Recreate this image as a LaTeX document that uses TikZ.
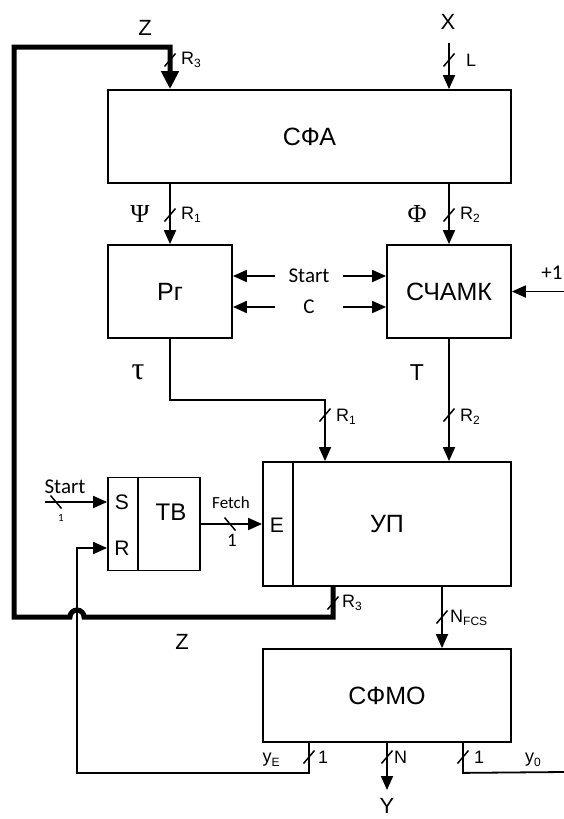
\documentclass[tikz,border=0pt]{standalone}
\usepackage{fontspec}
\setmainfont{Liberation Sans}
\newfontfamily\calibrifont{Carlito}
\newfontfamily\timesfont{Liberation Serif}
\usetikzlibrary{arrows.meta,calc,positioning}
\newcommand{\lowsub}[1]{\raisebox{-0.35ex}{\fontsize{12}{14}\selectfont #1}}

\tikzset{
  wire/.style={line width=1.8pt},
  arr/.style={wire, -{Triangle[length=14pt,width=12pt]}},
  zbus/.style={line width=5pt, -{Triangle[length=18pt,width=17pt]}},
  blk/.style={draw, line width=1.8pt, inner sep=0pt, font=\fontsize{25}{29}\selectfont},
  lbl/.style={inner sep=0pt, font=\fontsize{18}{21}\selectfont},
  sig/.style={inner sep=0pt, font=\fontsize{22}{26}\selectfont},
  cal/.style={inner sep=0pt, font=\calibrifont\fontsize{21}{25}\selectfont},
  greek/.style={inner sep=0pt, font=\timesfont\fontsize{26}{30}\selectfont},
  busv/.pic={\draw[line width=1.5pt] (-5.5,6.5) -- (5.5,-6.5);},
  bush/.pic={\draw[line width=1.5pt] (-5.5,-6.5) -- (5.5,6.5);}
}

\begin{document}
\begin{tikzpicture}[x=1pt, y=-1pt]
  \useasboundingbox (0,0) rectangle (564,819);

  % blocks
  \node[blk, minimum width=403pt, minimum height=93pt] (sfa) at (309.5,136.5) {СФА};
  \node[blk, minimum width=124pt, minimum height=93pt] (rg) at (170,291.5) {Рг};
  \node[blk, minimum width=124pt, minimum height=93pt] (sch) at (449,291.5) {СЧАМК};
  \node[blk, minimum width=248pt, minimum height=124pt] (up) at (387,524) {УП};
  \node[blk, minimum width=92pt, minimum height=93pt] (tb) at (154,524) {};
  \node[blk, minimum width=248pt, minimum height=93pt] (sfmo) at (387,695.5) {СФМО};
  \draw[wire] ([xshift=31pt]up.north west) -- ([xshift=31pt]up.south west);
  \draw[wire] ([xshift=30.5pt]tb.north west) -- ([xshift=30.5pt]tb.south west);
  \node[sig, font=\fontsize{21}{25}\selectfont] (e) at (277,525) {E};
  \node[blk, draw=none, font=\fontsize{24}{28}\selectfont] (tbl) at (171,512) {ТВ};
  \node[sig, font=\fontsize{21}{25}\selectfont] (s) at (122,502) {S};
  \node[sig, font=\fontsize{21}{25}\selectfont] (r) at (122,548) {R};

  % inputs of СФА
  \coordinate (xin) at (449,43);
  \draw[arr] (xin) -- (xin |- sfa.north);
  \node[sig] (xl) at (448,22) {X};
  \pic at (449,60) {busv};
  \node[lbl, anchor=west] at (466,60) {L};

  \draw[arr] (sfa.south -| rg.north) -- (rg.north);
  \draw[arr] (sfa.south -| sch.north) -- (sch.north);
  \pic at (170,215) {busv};
  \pic at (449,215) {busv};
  \node[greek] (psi) at (140,214) {Ψ};
  \node[lbl, anchor=west] at (181,215) {R\lowsub{1}};
  \node[greek] (phi) at (417,214) {Φ};
  \node[lbl, anchor=west] at (460,215) {R\lowsub{2}};

  % Start, C, +1
  \node[cal, minimum width=68pt] (st) at (309,276) {Start};
  \node[cal, minimum width=68pt] (cc) at (309,307) {C};
  \draw[arr] (st.west) -- (st.west -| rg.east);
  \draw[arr] (st.east) -- (st.east -| sch.west);
  \draw[arr] (cc.west) -- (cc.west -| rg.east);
  \draw[arr] (cc.east) -- (cc.east -| sch.west);
  \coordinate (inc) at (564,291.5);
  \draw[arr] (inc) -- (sch.east);
  \node[cal] (incl) at (552,273) {+1};

  % to УП
  \coordinate (tbend) at (325,400);
  \draw[arr] (rg.south) |- (tbend) -- (tbend |- up.north);
  \draw[arr] (sch.south) -- (sch.south |- up.north);
  \pic at (325,415) {busv};
  \pic at (449,415) {busv};
  \node[greek, font=\timesfont\fontsize{32}{36}\selectfont] (tau) at (138,372) {τ};
  \node[sig, font=\fontsize{23}{27}\selectfont] (tl) at (417,373) {T};
  \node[lbl, anchor=west] at (336,417) {R\lowsub{1}};
  \node[lbl, anchor=west] at (460,417) {R\lowsub{2}};

  % ТВ
  \coordinate (sin) at (45,502);
  \draw[arr] (sin) -- (sin -| tb.west);
  \pic at (56,502) {bush};
  \node[cal] at (65,487) {Start};
  \node[cal, font=\calibrifont\fontsize{11}{13}\selectfont] at (61,518) {1};
  \draw[arr] (tb.east) -- (up.west |- tb.east);
  \pic at (230,524) {bush};
  \node[cal, font=\calibrifont\fontsize{17}{20}\selectfont] at (231,503) {Fetch};
  \node[cal, font=\calibrifont\fontsize{19}{22}\selectfont] at (232,540) {1};

  % feedback Z
  \coordinate (zout) at ([xshift=-54pt]up.south);
  \coordinate (ztop) at (14,47);
  \draw[zbus] (zout) |- (84,617) arc[start angle=0, end angle=-180, radius=7]
    -| (ztop) -| (rg.north |- sfa.north);
  \pic at (333,603) {busv};
  \pic at (170,60) {busv};
  \node[lbl, anchor=west] at (342,603) {R\lowsub{3}};
  \node[lbl, anchor=west] at (181,60) {R\lowsub{3}};
  \node[sig] (zl) at (145,28) {Z};
  \node[sig] (zl2) at (182,642) {Z};

  % УП to СФМО
  \coordinate (nf) at ([xshift=55pt]up.south);
  \draw[arr] (nf) -- (nf |- sfmo.north);
  \pic at (442,617) {busv};
  \node[lbl, anchor=west] at (450,618) {N\lowsub{FCS}};

  % outputs of СФМО
  \coordinate (ye) at ([xshift=-78pt]sfmo.south);
  \coordinate (rin) at (77,548);
  \draw[arr] (ye) -- ++(0,30) -| (rin) -- (rin -| tb.west);
  \coordinate (yout) at (387,790);
  \draw[arr] (sfmo.south) -- (yout);
  \coordinate (yz) at ([xshift=76pt]sfmo.south);
  \draw[wire] (yz) -- ++(0,30) -- (564,772);
  \pic at (309,757) {busv};
  \pic at (387,757) {busv};
  \pic at (463,757) {busv};
  \node[lbl] at (271,760) {y\lowsub{E}};
  \node[lbl, anchor=west] at (318,757) {1};
  \node[lbl, anchor=west] at (394,757) {N};
  \node[lbl, anchor=west] at (474,757) {1};
  \node[lbl] at (533,760) {y\lowsub{0}};
  \node[sig] (yl) at (387,806) {Y};
\end{tikzpicture}
\end{document}
